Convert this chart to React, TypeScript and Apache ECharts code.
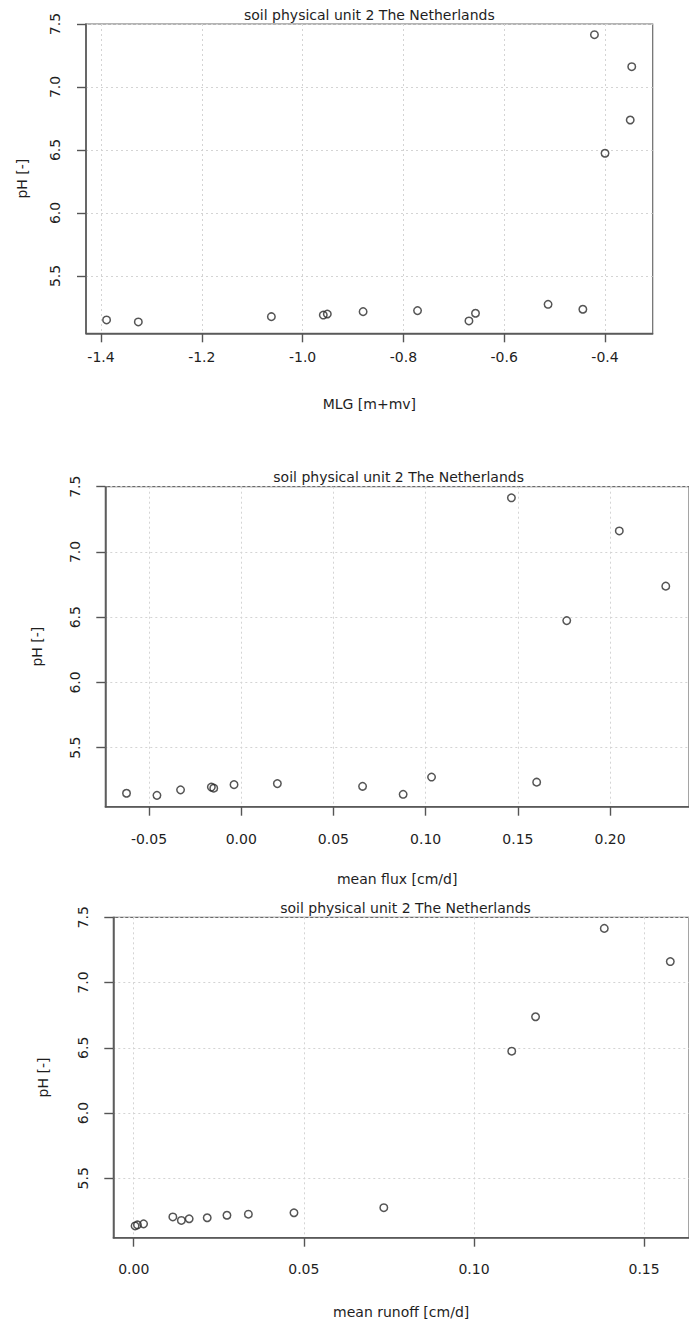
import React, { useEffect, useRef } from "react";
import * as echarts from "echarts";

// ---- data ----
const chartTitle = "soil physical unit 2 The Netherlands";
const yAxisTitle = "pH [-]";
const xAxisTitles = ["MLG [m+mv]", "mean flux [cm/d]", "mean runoff [cm/d]"];

const phValues = [5.151, 5.135, 5.177, 5.19, 5.198, 5.217, 5.225, 5.143, 5.204, 5.275, 5.236, 7.415, 7.161, 6.738, 6.474];
const mlgValues = [-1.389, -1.326, -1.062, -0.959, -0.951, -0.880, -0.772, -0.670, -0.657, -0.513, -0.444, -0.421, -0.347, -0.350, -0.400];
const fluxValues = [-0.0622, -0.0457, -0.0329, -0.0149, -0.0162, -0.0039, 0.0196, 0.0878, 0.0658, 0.1032, 0.1602, 0.1465, 0.205, 0.2302, 0.1765];
const runoffValues = [0.0029, 0.0004, 0.014, 0.0163, 0.0216, 0.0274, 0.0337, 0.0011, 0.0115, 0.0735, 0.0471, 0.1383, 0.1577, 0.1181, 0.1111];

const phTicks = [5.5, 6.0, 6.5, 7.0, 7.5];
const mlgTicks = [-1.4, -1.2, -1.0, -0.8, -0.6, -0.4];
const fluxTicks = [-0.05, 0.0, 0.05, 0.1, 0.15, 0.2];
const runoffTicks = [0.0, 0.05, 0.1, 0.15];

const xSeries = [mlgValues, fluxValues, runoffValues];
const xTickSets = [mlgTicks, fluxTicks, runoffTicks];
const xDecimals = [1, 2, 2];
const xRanges = [
  [-1.4298, -0.3054],
  [-0.0737, 0.2428],
  [-0.006, 0.1632],
];
const yRanges = [
  [5.045, 7.5],
  [5.048, 7.5],
  [5.045, 7.5],
];

// ---- layout ----
const FONT = '"DejaVu Sans", sans-serif';
const TEXT = "#1e1e1e";
const panels = [
  { left: 86, top: 24, width: 566.7, height: 309.3, yLabelMargin: 24, yNameGap: 57, xLabelMargin: 17, xNameGap: 64 },
  { left: 105.3, top: 486.7, width: 586.7, height: 320, yLabelMargin: 23, yNameGap: 61, xLabelMargin: 25, xNameGap: 65 },
  { left: 113.3, top: 917.3, width: 584.4, height: 320.4, yLabelMargin: 23, yNameGap: 63, xLabelMargin: 24, xNameGap: 67 },
];

const makeSplitLine = () => ({ show: true, lineStyle: { type: [2, 3], color: "#d4d4d4", width: 1 } });
const makeAxisLine = () => ({ show: true, onZero: false, lineStyle: { color: "#555", width: 1.5 } });

export default function App() {
  const ref = useRef<HTMLDivElement>(null);

  useEffect(() => {
    if (!ref.current) return;
    const chart = echarts.init(ref.current, null, { renderer: "svg" });

    const grid = panels.map((p) => ({
      left: p.left,
      top: p.top,
      width: p.width,
      height: p.height,
      show: true,
      borderColor: "#6a6a6a",
      borderWidth: 1.2,
      backgroundColor: "transparent",
      containLabel: false,
    }));

    const xAxis = panels.map((p, i) => ({
      type: "value",
      gridIndex: i,
      min: xRanges[i][0],
      max: xRanges[i][1],
      name: xAxisTitles[i],
      nameLocation: "middle",
      nameGap: p.xNameGap,
      nameTextStyle: { fontFamily: FONT, fontSize: 14, color: TEXT },
      axisLine: makeAxisLine(),
      axisTick: { show: true, length: 9, customValues: xTickSets[i], lineStyle: { color: "#555", width: 1.4 } },
      axisLabel: {
        customValues: xTickSets[i],
        margin: p.xLabelMargin,
        fontFamily: FONT,
        fontSize: 14,
        color: TEXT,
        showMinLabel: true,
        showMaxLabel: true,
        formatter: (v: number) => v.toFixed(xDecimals[i]),
      },
      splitLine: makeSplitLine(),
    }));

    const yAxis = panels.map((p, i) => ({
      type: "value",
      gridIndex: i,
      min: yRanges[i][0],
      max: yRanges[i][1],
      name: yAxisTitle,
      nameLocation: "middle",
      nameRotate: 90,
      nameGap: p.yNameGap,
      nameTextStyle: { fontFamily: FONT, fontSize: 14, color: TEXT },
      axisLine: makeAxisLine(),
      axisTick: { show: true, length: 9, customValues: phTicks, lineStyle: { color: "#555", width: 1.4 } },
      axisLabel: {
        customValues: phTicks,
        rotate: 90,
        margin: p.yLabelMargin,
        fontFamily: FONT,
        fontSize: 14,
        color: TEXT,
        showMinLabel: true,
        showMaxLabel: true,
        formatter: (v: number) => v.toFixed(1),
      },
      splitLine: makeSplitLine(),
    }));

    const series = xSeries.map((xs, i) => ({
      type: "scatter",
      xAxisIndex: i,
      yAxisIndex: i,
      symbol: "circle",
      symbolSize: 7.5,
      clip: false,
      itemStyle: { color: "rgba(0,0,0,0)", borderColor: "#2a2a2a", borderWidth: 1.5 },
      emphasis: { disabled: true },
      data: xs.map((x, k) => [x, phValues[k]]),
    }));

    const graphic = panels.map((p) => ({
      type: "text",
      x: p.left + p.width / 2,
      y: p.top - 9.5,
      style: {
        text: chartTitle,
        font: `14px ${FONT}`,
        fill: TEXT,
        textAlign: "center",
        textVerticalAlign: "middle",
        align: "center",
        verticalAlign: "middle",
      },
    }));

    chart.setOption({
      animation: false,
      backgroundColor: "#fff",
      textStyle: { fontFamily: FONT },
      grid,
      xAxis,
      yAxis,
      series,
      graphic,
    });

    return () => chart.dispose();
  }, []);

  return (
    <div
      ref={ref}
      style={{ position: "absolute", left: 0, top: 0, width: 689, height: 1322, background: "#fff" }}
    />
  );
}
